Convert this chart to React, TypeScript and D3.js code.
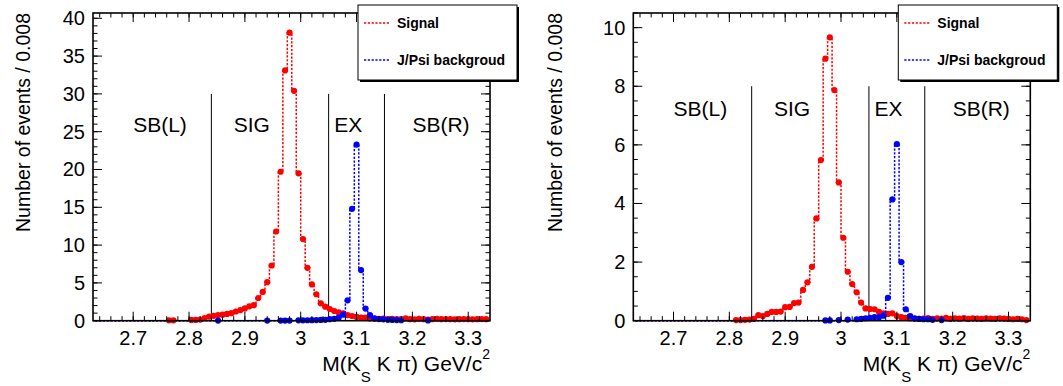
import React from 'react';
import * as d3 from 'd3';

const BIN_LOW = 2.632;
const BIN_WIDTH = 0.008;
const N_BINS = 88;

const xTickValues = [2.7, 2.8, 2.9, 3.0, 3.1, 3.2, 3.3];
const xTickLabels = ['2.7', '2.8', '2.9', '3', '3.1', '3.2', '3.3'];
const regionNames = ['SB(L)', 'SIG', 'EX', 'SB(R)'];
const regionLabelX = [2.7, 2.88, 3.06, 3.2];
const regionBoundaries = [2.84, 3.05, 3.15];
const legendLabels = ['Signal', 'J/Psi backgroud'];

const leftYTicks = [0, 5, 10, 15, 20, 25, 30, 35, 40];
const rightYTicks = [0, 2, 4, 6, 8, 10];

const signalLeft = [
  0, 0, 0, 0, 0, 0, 0, 0, 0, 0,
  0, 0, 0, 0, 0, 0, 0.05, 0.05, 0, 0,
  0, 0.1, 0.1, 0.15, 0.35, 0.55, 0.65, 0.75, 0.8, 0.9,
  1.0, 1.22, 1.4, 1.62, 1.9, 2.05, 3.0, 3.8, 5.1, 7.3,
  11.8, 19.7, 33.1, 38.1, 30.4, 19.5, 10.8, 7.0, 4.8, 3.5,
  2.3, 1.85, 1.55, 1.28, 1.1, 0.97, 0.75, 0.62, 0.5, 0.4,
  0.4, 0.3, 0.28, 0.25, 0.28, 0.2, 0.25, 0.2, 0.22, 0.3,
  0.2, 0.18, 0.25, 0.2, 0.15, 0.2, 0.25, 0.2, 0.22, 0.2,
  0.18, 0.2, 0.22, 0.2, 0.18, 0.2, 0.22, 0.2,
];

const backgroundLeft = [
  0, 0, 0, 0, 0, 0, 0, 0, 0, 0,
  0, 0, 0, 0, 0, 0, 0, 0, 0, 0,
  0, 0, 0, 0, 0, 0, 0, 0.02, 0, 0,
  0, 0, 0, 0, 0, 0, 0, 0, 0.02, 0,
  0, 0.02, 0.02, 0.02, 0, 0.05, 0.05, 0.06, 0.07, 0.08,
  0.1, 0.12, 0.2, 0.25, 0.4, 0.8, 2.7, 14.8, 23.3, 6.7,
  1.6, 0.75, 0.3, 0.22, 0.18, 0.12, 0.1, 0.08, 0.06, 0,
  0, 0, 0, 0, 0.03, 0, 0, 0, 0, 0,
  0, 0, 0, 0, 0, 0, 0, 0,
];

const signalRight = [
  0, 0, 0, 0, 0, 0, 0, 0, 0, 0,
  0, 0, 0, 0, 0, 0, 0, 0, 0, 0,
  0, 0, 0.02, 0.02, 0.03, 0.04, 0.06, 0.19, 0.16, 0.23,
  0.3, 0.3, 0.31, 0.46, 0.47, 0.6, 0.62, 1.05, 1.31, 1.84,
  3.49, 5.48, 8.94, 9.67, 7.87, 4.72, 2.83, 1.67, 1.25, 0.97,
  0.62, 0.42, 0.4, 0.39, 0.3, 0.25, 0.23, 0.25, 0.16, 0.12,
  0.1, 0.08, 0.08, 0.06, 0.07, 0.09, 0.06, 0.08, 0.07, 0.1,
  0.06, 0.08, 0.07, 0.09, 0.06, 0.08, 0.07, 0.06, 0.08, 0.07,
  0.06, 0.08, 0.07, 0.06, 0.05, 0.06, 0.05, 0.02,
];

const backgroundRight = [
  0, 0, 0, 0, 0, 0, 0, 0, 0, 0,
  0, 0, 0, 0, 0, 0, 0, 0, 0, 0,
  0, 0, 0, 0, 0, 0, 0, 0, 0, 0,
  0, 0, 0, 0, 0, 0, 0, 0, 0, 0,
  0, 0, 0.01, 0.01, 0, 0.02, 0, 0.04, 0, 0.05,
  0.06, 0.08, 0.1, 0.12, 0.12, 0.17, 0.78, 4.14, 6.03, 2.0,
  0.39, 0.16, 0.07, 0.06, 0.05, 0.05, 0.03, 0, 0.02, 0,
  0, 0, 0, 0, 0, 0, 0, 0, 0, 0,
  0, 0, 0, 0, 0, 0, 0, 0,
];

const FONT = "'Liberation Sans', Arial, Helvetica, sans-serif";
const RED = '#ff0000';
const BLUE = '#0000ff';

const FRAME_W = 397;
const FRAME_TOP = 13;
const FRAME_BOTTOM = 320.7;

type PanelProps = {
  x0: number;
  yMax: number;
  yTicks: number[];
  yMinorStep: number;
  signal: number[];
  background: number[];
  lineTop: number;
  labelY: number;
  titleX: number;
};

function Panel({ x0, yMax, yTicks, yMinorStep, signal, background, lineTop, labelY, titleX }: PanelProps) {
  const x = d3.scaleLinear().domain([2.628, 3.339]).range([x0, x0 + FRAME_W]);
  const y = d3.scaleLinear().domain([0, yMax]).range([FRAME_BOTTOM, FRAME_TOP]);
  const edges = d3.range(N_BINS + 1).map((i) => BIN_LOW + i * BIN_WIDTH);
  const centers = d3.range(N_BINS).map((i) => BIN_LOW + (i + 0.5) * BIN_WIDTH);
  const line = d3.line<[number, number]>();
  const stepPath = (vals: number[]) =>
    line(vals.flatMap((v, i) => [[x(edges[i]), y(v)], [x(edges[i + 1]), y(v)]] as [number, number][])) || '';

  const xMinor = d3.range(132, 167).map((i) => i * 0.02);
  const nMinorY = Math.floor(yMax / yMinorStep + 1e-6);
  const yMinor = d3.range(0, nMinorY + 1).map((i) => i * yMinorStep);

  const majLen = 9;
  const minLen = 4.5;
  const xL = x0;
  const xR = x0 + FRAME_W;

  const legX = x0 + 265;

  return (
    <g>
      {regionBoundaries.map((b, i) => (
        <line key={'b' + i} x1={x(b)} x2={x(b)} y1={y(0)} y2={y(lineTop)} stroke="#000" strokeWidth={1} />
      ))}
      {regionNames.map((n, i) => (
        <text key={'r' + i} x={x(regionLabelX[i])} y={y(labelY)} fontFamily={FONT} fontSize={21} fill="#000">
          {n}
        </text>
      ))}

      <path d={stepPath(signal)} fill="none" stroke={RED} strokeWidth={1.5} strokeDasharray="2.2 1.6" />
      {signal.map((v, i) =>
        v > 0 ? <circle key={'s' + i} cx={x(centers[i])} cy={y(v)} r={3.1} fill={RED} /> : null
      )}
      <path d={stepPath(background)} fill="none" stroke={BLUE} strokeWidth={1.5} strokeDasharray="2.2 1.6" />
      {background.map((v, i) =>
        v > 0 ? <circle key={'k' + i} cx={x(centers[i])} cy={y(v)} r={3.1} fill={BLUE} /> : null
      )}

      <rect x={xL} y={FRAME_TOP} width={FRAME_W} height={FRAME_BOTTOM - FRAME_TOP} fill="none" stroke="#000" strokeWidth={1.6} />

      {xMinor.map((t, i) => (
        <g key={'xm' + i}>
          <line x1={x(t)} x2={x(t)} y1={FRAME_BOTTOM} y2={FRAME_BOTTOM - minLen} stroke="#000" strokeWidth={1} />
          <line x1={x(t)} x2={x(t)} y1={FRAME_TOP} y2={FRAME_TOP + minLen} stroke="#000" strokeWidth={1} />
        </g>
      ))}
      {xTickValues.map((t, i) => (
        <g key={'xM' + i}>
          <line x1={x(t)} x2={x(t)} y1={FRAME_BOTTOM} y2={FRAME_BOTTOM - majLen} stroke="#000" strokeWidth={1} />
          <line x1={x(t)} x2={x(t)} y1={FRAME_TOP} y2={FRAME_TOP + majLen} stroke="#000" strokeWidth={1} />
          <text x={x(t)} y={345} textAnchor="middle" fontFamily={FONT} fontSize={20} fill="#000">
            {xTickLabels[i]}
          </text>
        </g>
      ))}

      {yMinor.map((t, i) => (
        <g key={'ym' + i}>
          <line x1={xL} x2={xL + minLen} y1={y(t)} y2={y(t)} stroke="#000" strokeWidth={1} />
          <line x1={xR} x2={xR - minLen} y1={y(t)} y2={y(t)} stroke="#000" strokeWidth={1} />
        </g>
      ))}
      {yTicks.map((t, i) => (
        <g key={'yM' + i}>
          <line x1={xL} x2={xL + majLen} y1={y(t)} y2={y(t)} stroke="#000" strokeWidth={1} />
          <line x1={xR} x2={xR - majLen} y1={y(t)} y2={y(t)} stroke="#000" strokeWidth={1} />
          <text x={xL - 8} y={y(t) + 7} textAnchor="end" fontFamily={FONT} fontSize={20} fill="#000">
            {String(t)}
          </text>
        </g>
      ))}

      <text
        transform={`translate(${titleX},${FRAME_TOP}) rotate(-90)`}
        textAnchor="end"
        fontFamily={FONT}
        fontSize={19.5}
        fill="#000"
      >
        Number of events / 0.008
      </text>
      <text x={xR} y={371} textAnchor="end" fontFamily={FONT} fontSize={21} fill="#000">
        M(K
        <tspan fontSize={15} dy={11}>S</tspan>
        <tspan dy={-11}> K π) GeV/c</tspan>
        <tspan fontSize={14} dy={-12}>2</tspan>
      </text>

      <rect x={legX + 2} y={7} width={159} height={75} fill="#000" />
      <rect x={legX} y={5} width={159} height={75} fill="#fff" stroke="#000" strokeWidth={1} />
      {legendLabels.map((l, i) => (
        <g key={'l' + i}>
          <line
            x1={legX + 6}
            x2={legX + 32}
            y1={i === 0 ? 23 : 60}
            y2={i === 0 ? 23 : 60}
            stroke={i === 0 ? RED : BLUE}
            strokeWidth={1.5}
            strokeDasharray="2.2 1.6"
          />
          <text x={legX + 39} y={i === 0 ? 27.5 : 65} fontFamily={FONT} fontSize={14} fontWeight="bold" fill="#000">
            {l}
          </text>
        </g>
      ))}
    </g>
  );
}

export default function App() {
  return (
    <svg
      width={1063}
      height={386}
      style={{ position: 'absolute', left: 0, top: 0, background: '#fff' }}
      xmlns="http://www.w3.org/2000/svg"
    >
      <rect x={0} y={0} width={1063} height={386} fill="#fff" />
      <Panel
        x0={93}
        yMax={40.7}
        yTicks={leftYTicks}
        yMinorStep={1}
        signal={signalLeft}
        background={backgroundLeft}
        lineTop={30}
        labelY={25}
        titleX={30}
      />
      <Panel
        x0={633.3}
        yMax={10.5}
        yTicks={rightYTicks}
        yMinorStep={0.5}
        signal={signalRight}
        background={backgroundRight}
        lineTop={8}
        labelY={7}
        titleX={562}
      />
    </svg>
  );
}
